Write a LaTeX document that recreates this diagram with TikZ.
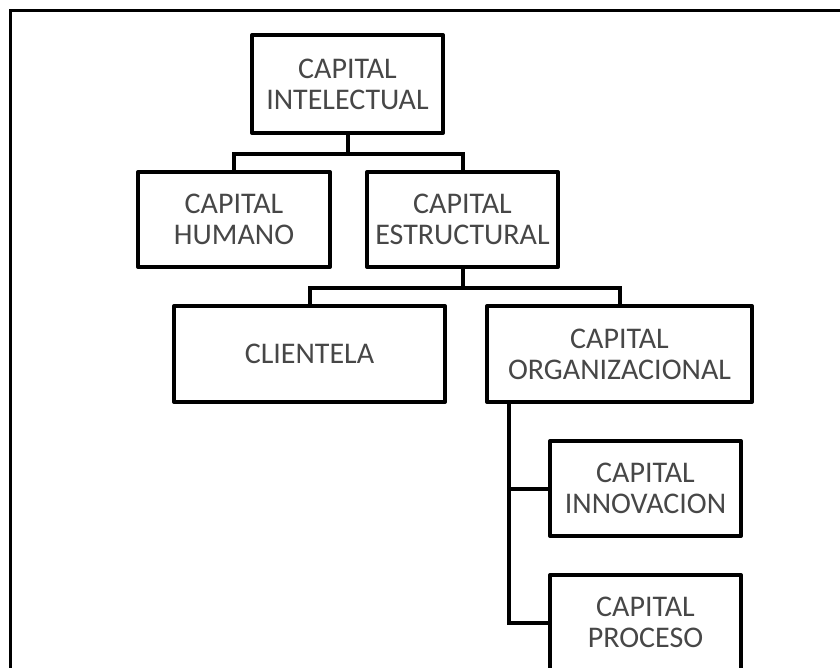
\documentclass[tikz,border=0pt]{standalone}
\usepackage{fontspec}
\setmainfont{Carlito}
\usetikzlibrary{calc}
\tikzset{
  box/.style={draw=black, line width=4pt, fill=white, align=center, inner sep=0pt,
    text=black!72, font=\fontsize{30}{31}\selectfont, line join=round},
  conn/.style={draw=black, line width=4pt, line join=miter},
}
\begin{document}
\begin{tikzpicture}[x=1pt,y=-1pt]
\useasboundingbox (0,0) rectangle (840,668);
\clip (0,0) rectangle (840,668);
\fill[white] (0,0) rectangle (840,668);
% outer frame
\draw[line width=3pt] (10,690) -- (10,11) -- (860,11);
% nodes
\node[box, minimum width=191pt, minimum height=98pt] (top) at (347.5,84) {CAPITAL\\INTELECTUAL};
\node[box, minimum width=192pt, minimum height=95pt] (hum) at (234,219.5) {CAPITAL\\HUMANO};
\node[box, minimum width=191pt, minimum height=95pt] (est) at (462.5,219.5) {CAPITAL\\ESTRUCTURAL};
\node[box, minimum width=271pt, minimum height=96pt] (cli) at (309.5,354) {CLIENTELA};
\node[box, minimum width=265pt, minimum height=96pt] (org) at (619.5,354) {CAPITAL\\ORGANIZACIONAL};
\node[box, minimum width=191pt, minimum height=95pt] (inn) at (645.5,488.5) {CAPITAL\\INNOVACION};
\node[box, minimum width=191pt, minimum height=95pt] (pro) at (645.5,622.5) {CAPITAL\\PROCESO};
% connectors
\coordinate (j1) at ($(top.south)+(0,19)$);
\coordinate (j2) at ($(est.south)+(0,19)$);
\coordinate (o1) at ($(org.south west)+(24,0)$);
\draw[conn] (top.south) -- (j1);
\draw[conn] (hum.north) |- (j1) -| (est.north);
\draw[conn] (est.south) -- (j2);
\draw[conn] (cli.north) |- (j2) -| (org.north);
\draw[conn] (o1) |- (inn.west);
\draw[conn] (o1) |- (pro.west);
\end{tikzpicture}
\end{document}
